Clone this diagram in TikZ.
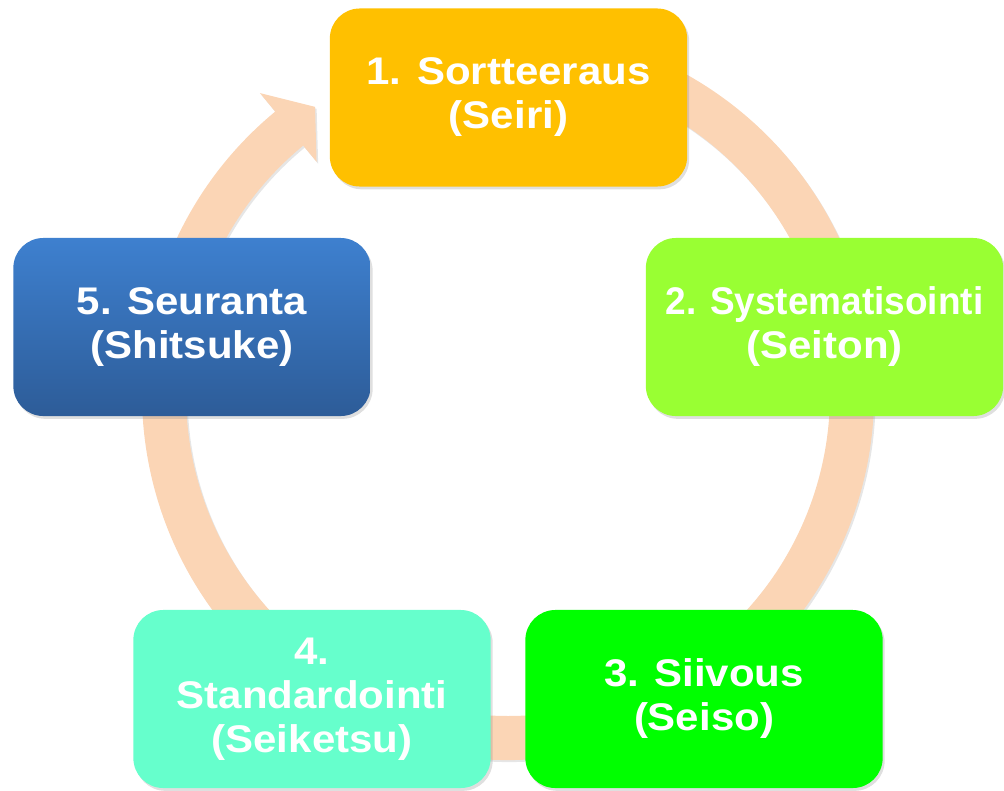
\documentclass[tikz,border=0pt]{standalone}
\usepackage{fontspec}
\setmainfont{Liberation Sans}[FakeStretch=1.09]
\newfontfamily\narrowsans{Liberation Sans}[FakeStretch=0.96]
\usepackage{tikz}
\usetikzlibrary{shadows}

\definecolor{ringpeach}{HTML}{FBD5B5}
\definecolor{seiriorange}{HTML}{FFC000}
\definecolor{seitonlime}{HTML}{99FF33}
\definecolor{seisogreen}{HTML}{00FF00}
\definecolor{seiketsuaqua}{HTML}{66FFCC}
\definecolor{shitsuketop}{HTML}{3E80CF}
\definecolor{shitsukebot}{HTML}{2D5C98}

\tikzset{
  stepbox/.style={rounded corners=0.75cm, minimum width=8.93cm, minimum height=4.45cm,
    inner sep=0pt, align=center, text=white,
    font=\bfseries\fontsize{27.4}{31.3}\selectfont,
    drop shadow={opacity=0.25, shadow xshift=0.05cm, shadow yshift=-0.07cm}},
}

\begin{document}
\begin{tikzpicture}[x=0.025cm, y=0.025cm]
      \useasboundingbox (0,0) rectangle (1004,-790);

      % The cycle ring with its arrow head
      \begin{scope}[shift={(508,-394)}]
        \fill[ringpeach, drop shadow={opacity=0.2, shadow xshift=0.04cm, shadow yshift=-0.05cm}]
          (100:366) arc[start angle=100, end angle=-230.5, radius=366]
          -- (129.5:390) -- (123.9:346) -- (129.5:301)
          -- (129.5:322) arc[start angle=-230.5, end angle=100, radius=322] -- cycle;
      \end{scope}

      % Step 1: Seiri
      \node[stepbox, fill=seiriorange] (s1) at (508.5,-97.5) {1. Sortteeraus\\(Seiri)};

      % Step 2: Seiton
      \node[stepbox, fill=seitonlime] (s2) at (824.5,-327) {{\narrowsans 2. Systematisointi}\\(Seiton)};

      % Step 3: Seiso
      \node[stepbox, fill=seisogreen] (s3) at (704,-699) {3. Siivous\\(Seiso)};

      % Step 4: Seiketsu
      \node[stepbox, fill=seiketsuaqua] (s4) at (312,-699) {4.\\Standardointi\\(Seiketsu)};

      % Step 5: Shitsuke
      \node[stepbox, top color=shitsuketop, bottom color=shitsukebot] (s5) at (192,-327) {5. Seuranta\\(Shitsuke)};
    \end{tikzpicture}
\end{document}
